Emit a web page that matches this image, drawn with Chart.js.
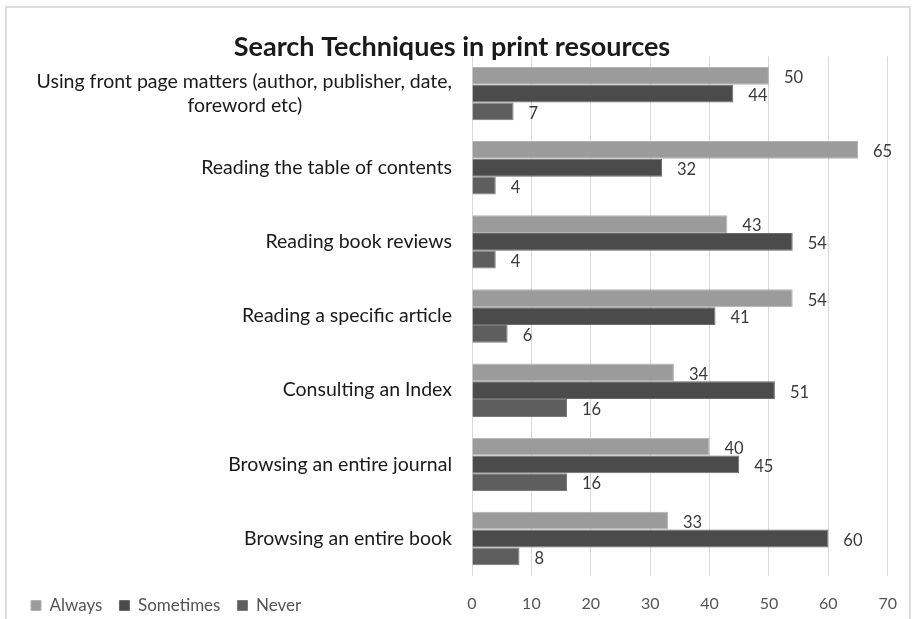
<!DOCTYPE html>
<html><head><meta charset="utf-8">
<script src="https://cdn.jsdelivr.net/npm/chart.js@4/dist/chart.umd.min.js"></script>
<style>
html,body{margin:0;padding:0;background:#fff;overflow:hidden}
#wrap{position:relative;width:916px;height:619px}
#frame{position:absolute;left:5px;top:6px;width:902px;height:660px;border:2px solid #dedede;border-bottom:none;pointer-events:none}
canvas{position:absolute;left:0;top:0}
</style></head><body>
<div id="wrap"><canvas id="c" width="916" height="619"></canvas><div id="frame"></div></div>
<script>
const categories = [
  ['Using front page matters (author, publisher, date,', 'foreword etc)'],
  'Reading the table of contents',
  'Reading book reviews',
  'Reading a specific article',
  'Consulting an Index',
  'Browsing an entire journal',
  'Browsing an entire book'
];
const seriesNames = ['Always', 'Sometimes', 'Never'];
const always = [50, 65, 43, 54, 34, 40, 33];
const sometimes = [44, 32, 54, 41, 51, 45, 60];
const never = [7, 4, 4, 6, 16, 16, 8];
const xTicks = [0, 10, 20, 30, 40, 50, 60, 70];

const FONT = 'Lato';
const labelFont = {family: FONT, size: 19.5};

// center the lines of a wrapped category label relative to each other
const mctx = document.createElement('canvas').getContext('2d');
mctx.font = labelFont.size + 'px ' + FONT;
function centerLines(lbl) {
  if (!Array.isArray(lbl)) return lbl;
  const ws = lbl.map(l => mctx.measureText(l).width);
  const maxW = Math.max(...ws);
  const sp = mctx.measureText(' ').width;
  return lbl.map((l, i) => l + ' '.repeat(Math.round((maxW - ws[i]) / 2 / sp)));
}

const valueLabels = {
  id: 'valueLabels',
  afterDatasetsDraw(chart) {
    const ctx = chart.ctx;
    ctx.save();
    ctx.font = '16.5px ' + FONT;
    ctx.fillStyle = '#3a3a3a';
    ctx.textAlign = 'left';
    ctx.textBaseline = 'middle';
    chart.data.datasets.forEach((ds, di) => {
      chart.getDatasetMeta(di).data.forEach((el, i) => {
        ctx.fillText(String(ds.data[i]), el.x + 15, el.y + 2);
      });
    });
    ctx.restore();
  }
};

const legendRow = {
  id: 'legendRow',
  beforeLayout(chart) {
    const lg = chart.legend;
    if (lg && !lg._rowPatched) {
      const f = lg.fit;
      lg.fit = function() { f.call(this); this.height = 0; };
      lg._rowPatched = true;
    }
  },
  afterLayout(chart) {
    const lg = chart.legend;
    if (!lg) return;
    lg.top = 580;
    lg.bottom = lg.top + 39;
    lg.height = 39;
  }
};

new Chart(document.getElementById('c'), {
  type: 'bar',
  data: {
    labels: categories,
    datasets: [
      {label: seriesNames[0], data: always, backgroundColor: '#9b9b9b', borderColor: '#b3b3b3', borderWidth: 1},
      {label: seriesNames[1], data: sometimes, backgroundColor: '#4b4b4b', borderColor: '#6a6a6a', borderWidth: 1},
      {label: seriesNames[2], data: never, backgroundColor: '#5e5e5e', borderColor: '#7a7a7a', borderWidth: 1}
    ]
  },
  options: {
    indexAxis: 'y',
    responsive: false,
    animation: false,
    devicePixelRatio: 1,
    layout: {padding: {left: 14, right: 26, top: 0, bottom: 0}},
    datasets: {bar: {barPercentage: 1, categoryPercentage: 0.72}},
    plugins: {
      title: {
        display: true,
        text: 'Search Techniques in print resources',
        font: {family: FONT, size: 27, weight: 'bold'},
        color: '#1a1a1a',
        padding: {top: 30.8, bottom: -6.7}
      },
      legend: {
        position: 'bottom',
        align: 'start',
        labels: {boxWidth: 10, boxHeight: 10, padding: 17, color: '#555555', font: {family: FONT, size: 17}}
      },
      tooltip: {enabled: false}
    },
    scales: {
      x: {
        min: 0, max: 70,
        afterBuildTicks(scale) { scale.ticks = xTicks.map(v => ({value: v})); },
        ticks: {color: '#555555', font: {family: FONT, size: 16}, padding: 19},
        grid: {color: '#d9d9d9', drawTicks: false},
        border: {display: false},
        afterFit(scale) { scale.height = 619 - 581.5; }
      },
      y: {
        ticks: {
          color: '#1a1a1a', font: labelFont, padding: 20,
          callback(v, i) { return centerLines(categories[i]); }
        },
        grid: {display: false, drawTicks: false},
        border: {display: false},
        afterFit(scale) { scale.width = 458; }
      }
    }
  },
  plugins: [valueLabels, legendRow]
});
</script>
</body></html>
